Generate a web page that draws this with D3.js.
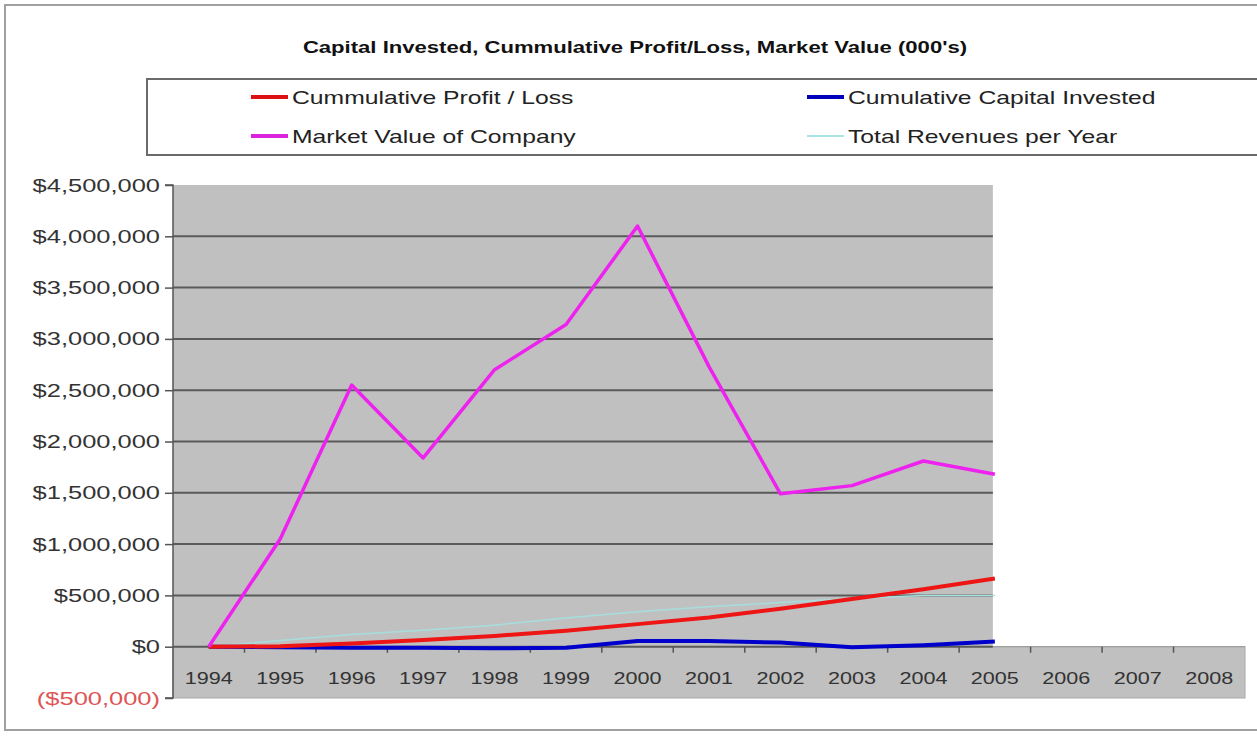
<!DOCTYPE html>
<html>
<head>
<meta charset="utf-8">
<script src="https://cdn.jsdelivr.net/npm/d3@7/dist/d3.min.js"></script>
<style>
  html, body { margin: 0; padding: 0; background: #fff; }
  svg { display: block; font-family: "Liberation Sans", Arial, sans-serif; }
</style>
</head>
<body>
<svg id="chart" width="1257" height="736"></svg>
<script>
const years = ["1994","1995","1996","1997","1998","1999","2000","2001","2002","2003","2004","2005","2006","2007","2008"];
const dataYears = ["1994","1995","1996","1997","1998","1999","2000","2001","2002","2003","2004","2005"];
const profitLoss = [0, 5000, 30000, 65000, 105000, 155000, 220000, 285000, 370000, 465000, 560000, 665000];
const capitalInvested = [0, -5000, -10000, -10000, -15000, -10000, 55000, 55000, 40000, -5000, 15000, 50000];
const marketValue = [0, 1050000, 2550000, 1840000, 2700000, 3140000, 4100000, 2730000, 1490000, 1570000, 1810000, 1680000];
const revenues = [0, 60000, 120000, 160000, 210000, 280000, 340000, 390000, 430000, 470000, 500000, 500000];
const yTicks = [-500000, 0, 500000, 1000000, 1500000, 2000000, 2500000, 3000000, 3500000, 4000000, 4500000];
const title = "Capital Invested, Cummulative Profit/Loss, Market Value (000's)";
const seriesNames = ["Cummulative Profit / Loss", "Cumulative Capital Invested", "Market Value of Company", "Total Revenues per Year"];

const svg = d3.select("#chart");

function stretch(factor) {
  return sel => sel.each(function() {
    const len = this.getComputedTextLength();
    d3.select(this).attr("textLength", len * factor).attr("lengthAdjust", "spacingAndGlyphs");
  });
}

// outer frame
svg.append("rect").attr("x", 5).attr("y", 5).attr("width", 1262).attr("height", 725)
  .attr("fill", "#fff").attr("stroke", "#a0a0a0").attr("stroke-width", 2);

const x = d3.scaleBand().domain(years).range([173, 1245]).padding(0);
const y = d3.scaleLinear().domain([-500000, 4500000]).range([698, 185]);
const cx = d => x(d) + x.bandwidth() / 2;

// plot backgrounds
const lastX = cx(dataYears[dataYears.length - 1]) - 2;
svg.append("rect").attr("x", x.range()[0]).attr("y", y(4500000))
  .attr("width", lastX - x.range()[0]).attr("height", y(0) - y(4500000))
  .attr("fill", "#c0c0c0");
svg.append("rect").attr("x", x.range()[0]).attr("y", y(0))
  .attr("width", x.range()[1] - x.range()[0]).attr("height", y(-500000) - y(0))
  .attr("fill", "#c0c0c0").attr("stroke", "#a8a8a8").attr("stroke-width", 1);

// gridlines
svg.append("g").selectAll("line").data(yTicks.filter(v => v >= 0 && v < 4500000)).join("line")
  .attr("x1", x.range()[0]).attr("x2", lastX)
  .attr("y1", d => y(d)).attr("y2", d => y(d))
  .attr("stroke", "#5a5a5a").attr("stroke-width", 2);
svg.append("line").attr("x1", lastX).attr("x2", x.range()[1])
  .attr("y1", y(0)).attr("y2", y(0)).attr("stroke", "#9a9a9a").attr("stroke-width", 1);

// y axis
const yAxis = d3.axisLeft(y).tickValues(yTicks).tickSize(8).tickPadding(6)
  .tickFormat(d => d < 0 ? "($" + d3.format(",")(-d) + ")" : "$" + d3.format(",")(d));
const gy = svg.append("g").attr("transform", `translate(${x.range()[0]},0)`).call(yAxis);
gy.select(".domain").attr("stroke", "#555").attr("stroke-width", 1.5).attr("d", `M-8,${y(4500000)}H0V${y(-500000)}H-8`);
gy.selectAll(".tick line").attr("stroke", "#555").attr("stroke-width", 1.5);
gy.selectAll(".tick text").attr("font-size", 19).attr("fill", d => d < 0 ? "#dd5555" : "#333")
  .attr("font-family", "Liberation Sans, Arial, sans-serif").attr("x", -13).call(stretch(1.34));

// x axis
const xAxis = d3.axisBottom(x).tickSize(0).tickPadding(0);
const gx = svg.append("g").attr("transform", `translate(0,${y(0)})`).call(xAxis);
gx.select(".domain").remove();
gx.selectAll(".tick text").attr("font-size", 17).attr("fill", "#333")
  .attr("font-family", "Liberation Sans, Arial, sans-serif").attr("y", 37).attr("dy", 0).call(stretch(1.27));
svg.append("g").selectAll("line").data(years.slice(1)).join("line")
  .attr("x1", d => x(d)).attr("x2", d => x(d))
  .attr("y1", y(0)).attr("y2", y(0) + 6)
  .attr("stroke", "#555").attr("stroke-width", 1.5);

// lines
const line = d3.line().x((d, i) => cx(dataYears[i])).y(d => y(d));
svg.append("path").datum(revenues).attr("d", line).attr("fill", "none")
  .attr("stroke", "#a6dede").attr("stroke-width", 1.5);
svg.append("path").datum(capitalInvested).attr("d", line).attr("fill", "none")
  .attr("stroke", "#0000cc").attr("stroke-width", 4).attr("stroke-linejoin", "round");
svg.append("path").datum(profitLoss).attr("d", line).attr("fill", "none")
  .attr("stroke", "#ee1515").attr("stroke-width", 4).attr("stroke-linejoin", "round");
svg.append("path").datum(marketValue).attr("d", line).attr("fill", "none")
  .attr("stroke", "#ee22ee").attr("stroke-width", 3.5).attr("stroke-linejoin", "round");

// title
svg.append("text").attr("x", 635).attr("y", 53).attr("text-anchor", "middle")
  .attr("font-size", 16).attr("font-weight", "bold").attr("fill", "#111").text(title).call(stretch(1.38));

// legend
svg.append("rect").attr("x", 147).attr("y", 79).attr("width", 1130).attr("height", 76)
  .attr("fill", "#fff").attr("stroke", "#6a6a6a").attr("stroke-width", 2);
const legendItems = [
  { name: seriesNames[0], color: "#dd1111", w: 4, lx: 251, ly: 97 },
  { name: seriesNames[1], color: "#0000bb", w: 4, lx: 807, ly: 97 },
  { name: seriesNames[2], color: "#dd22dd", w: 4, lx: 251, ly: 136 },
  { name: seriesNames[3], color: "#a8e4e4", w: 2, lx: 807, ly: 136 }
];
const lg = svg.append("g").selectAll("g").data(legendItems).join("g");
lg.append("line").attr("x1", d => d.lx).attr("x2", d => d.lx + 37)
  .attr("y1", d => d.ly).attr("y2", d => d.ly)
  .attr("stroke", d => d.color).attr("stroke-width", d => d.w);
lg.append("text").attr("x", d => d.lx + 41).attr("y", d => d.ly + 7)
  .attr("font-size", 19).attr("fill", "#222").text(d => d.name).call(stretch(1.30));
</script>
</body>
</html>
